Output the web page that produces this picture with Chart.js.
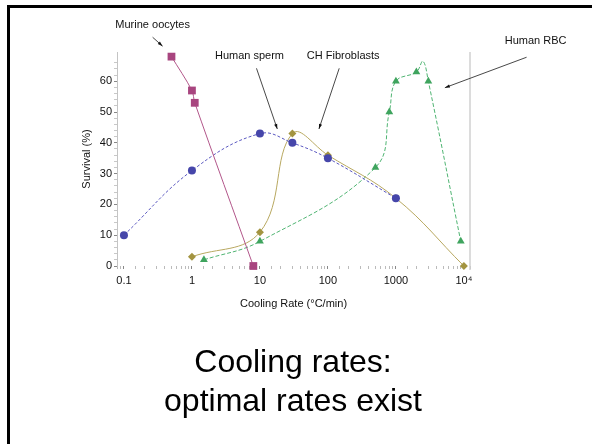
<!DOCTYPE html>
<html>
<head>
<meta charset="utf-8">
<script src="https://cdn.jsdelivr.net/npm/chart.js@4/dist/chart.umd.min.js"></script>
<style>
  body { margin: 0; background: #fff; }
  #wrap { position: relative; width: 592px; height: 444px; overflow: hidden; }
  #frameTop { position: absolute; left: 7px; top: 5px; width: 585px; height: 3px; background: #000; }
  #frameLeft { position: absolute; left: 7px; top: 5px; width: 3px; height: 439px; background: #000; }
  #caption { position: absolute; left: 0; top: 342px; width: 586px; text-align: center;
    font: 32px "Liberation Sans", Arial, sans-serif; line-height: 39px; color: #000; }
  canvas { position: absolute; left: 0; top: 0; }
</style>
</head>
<body>
<div id="wrap">
  <canvas id="plot" width="592" height="444"></canvas>
  <div id="frameTop"></div>
  <div id="frameLeft"></div>
  <div id="caption">Cooling rates:<br>optimal rates exist</div>
</div>
<script>
// survival (%) against cooling rate (°C/min)
const oocyteRate = [0.5, 1, 1.1, 8];
const oocyteSurvival = [68, 57, 53, 0];

const spermRate = [0.1, 1, 10, 30, 100, 1000];
const spermSurvival = [10, 31, 43, 40, 35, 22];

const fibroRate = [1, 10, 30, 100, 1000, 10000];
const fibroSurvival = [3, 11, 43, 36, 22, 0];

// the 2500 entry is the unmarked top of the RBC curve
const rbcRate = [1.5, 10, 500, 800, 1000, 2000, 2500, 3000, 9000];
const rbcSurvival = [2, 8, 32, 50, 60, 63, 66.5, 60, 8];
const rbcMarked = [1, 1, 1, 1, 1, 1, 0, 1, 1];

const xTickLabels = {0.1: '0.1', 1: '1', 10: '10', 100: '100', 1000: '1000', 10000: '10⁴'};

const font = 'Liberation Sans, Arial, sans-serif';

function pts(xs, ys) {
  return xs.map((x, i) => ({x: x, y: ys[i]}));
}

// labels with arrows, anchored in data space
const notes = [
  {text: 'Murine oocytes', tail: [0.264, 74.3], tip: [0.37, 71.4], dx: 0, dy: -12},
  {text: 'Human sperm', tail: [8.9, 64.2], tip: [18, 44.5], dx: -7, dy: -12},
  {text: 'CH Fibroblasts', tail: [146.6, 64.2], tip: [73.8, 44.5], dx: 4, dy: -12},
  {text: 'Human RBC', tail: [83600, 67.8], tip: [5250, 57.9], dx: 9, dy: -16}
];

const notesPlugin = {
  id: 'notes',
  afterDatasetsDraw(chart) {
    const {ctx, scales: {x, y}, chartArea} = chart;
    ctx.save();
    // light frame line on the right
    ctx.strokeStyle = '#d0d0d0';
    ctx.lineWidth = 1.5;
    ctx.beginPath();
    ctx.moveTo(chartArea.right, chartArea.top);
    ctx.lineTo(chartArea.right, chartArea.bottom + 4);
    ctx.stroke();

    ctx.font = '11px ' + font;
    ctx.fillStyle = '#111';
    ctx.textAlign = 'center';
    ctx.textBaseline = 'middle';
    notes.forEach(n => {
      const x0 = x.getPixelForValue(n.tail[0]), y0 = y.getPixelForValue(n.tail[1]);
      const x1 = x.getPixelForValue(n.tip[0]), y1 = y.getPixelForValue(n.tip[1]);
      ctx.fillText(n.text, x0 + n.dx, y0 + n.dy);
      ctx.strokeStyle = '#333';
      ctx.lineWidth = 0.9;
      ctx.beginPath();
      ctx.moveTo(x0, y0);
      ctx.lineTo(x1, y1);
      ctx.stroke();
      const a = Math.atan2(y1 - y0, x1 - x0);
      ctx.fillStyle = '#111';
      ctx.beginPath();
      ctx.moveTo(x1, y1);
      ctx.lineTo(x1 - 5 * Math.cos(a) + 1.6 * Math.sin(a), y1 - 5 * Math.sin(a) - 1.6 * Math.cos(a));
      ctx.lineTo(x1 - 5 * Math.cos(a) - 1.6 * Math.sin(a), y1 - 5 * Math.sin(a) + 1.6 * Math.cos(a));
      ctx.closePath();
      ctx.fill();
    });
    ctx.restore();
  }
};

function isDecade(v) {
  const l = Math.log10(v);
  return Math.abs(l - Math.round(l)) < 1e-9;
}

new Chart(document.getElementById('plot'), {
  type: 'line',
  data: {
    datasets: [{
      label: 'Murine oocytes',
      data: pts(oocyteRate, oocyteSurvival),
      borderColor: '#b2568a',
      backgroundColor: '#a8457f',
      borderWidth: 1,
      pointStyle: 'rect',
      pointRadius: 5.5,
      pointBorderWidth: 0,
      tension: 0.3,
      clip: false
    }, {
      label: 'Human sperm',
      data: pts(spermRate, spermSurvival),
      borderColor: '#5a58c0',
      backgroundColor: '#4646aa',
      borderWidth: 1,
      borderDash: [3, 2],
      pointStyle: 'circle',
      pointRadius: 4,
      pointBorderWidth: 0,
      tension: 0.4,
      clip: false
    }, {
      label: 'CH Fibroblasts',
      data: pts(fibroRate, fibroSurvival),
      borderColor: '#b8a860',
      backgroundColor: '#a39440',
      borderWidth: 1,
      pointStyle: 'rectRot',
      pointRadius: 4,
      pointBorderWidth: 0,
      tension: 0.4,
      clip: false
    }, {
      label: 'Human RBC',
      data: pts(rbcRate, rbcSurvival),
      borderColor: '#4fb472',
      backgroundColor: '#3fa45e',
      borderWidth: 1,
      borderDash: [4, 2],
      pointStyle: 'triangle',
      pointRadius: rbcMarked.map(m => m ? 4.5 : 0),
      pointBorderWidth: 0,
      tension: 0.4,
      clip: false
    }]
  },
  options: {
    responsive: false,
    animation: false,
    layout: {padding: {top: 52, right: 122, left: 0, bottom: 0}},
    plugins: {legend: {display: false}, tooltip: {enabled: false}},
    scales: {
      x: {
        type: 'logarithmic',
        min: 0.079,
        max: 12300,
        afterFit: s => { s.height = 178; },
        border: {display: false},
        grid: {
          drawOnChartArea: false,
          drawTicks: true,
          tickLength: 3,
          tickColor: c => isDecade(c.tick.value) ? '#888' : '#bbb'
        },
        ticks: {
          autoSkip: false,
          maxRotation: 0,
          padding: 5,
          color: '#111',
          font: {family: font, size: 11},
          callback: v => isDecade(v) ? (xTickLabels[Math.round(v * 10) / 10] || '') : ''
        },
        title: {
          display: true,
          text: 'Cooling Rate (°C/min)',
          color: '#111',
          font: {family: font, size: 11},
          padding: {top: 0, bottom: 133}
        }
      },
      y: {
        min: 0,
        max: 69.5,
        afterFit: s => { s.width = 117; },
        border: {display: true, color: '#c4c4c4', width: 1},
        grid: {
          drawOnChartArea: false,
          drawTicks: true,
          tickLength: 3,
          tickColor: c => c.tick.value % 10 === 0 ? '#888' : (c.tick.value % 2 === 0 ? '#c8c8c8' : 'rgba(0,0,0,0)')
        },
        ticks: {
          stepSize: 2,
          autoSkip: false,
          padding: 2,
          color: '#111',
          font: {family: font, size: 11},
          callback: v => v % 10 === 0 ? String(v) : ''
        },
        title: {
          display: true,
          text: 'Survival (%)',
          color: '#111',
          font: {family: font, size: 11},
          padding: {top: 80, bottom: 0}
        }
      }
    }
  },
  plugins: [notesPlugin]
});
</script>
</body>
</html>
